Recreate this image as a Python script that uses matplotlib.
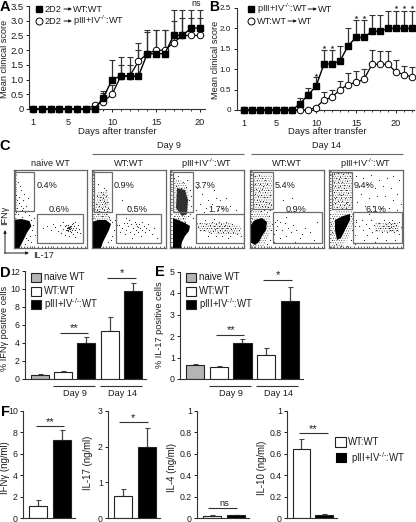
import matplotlib
matplotlib.use("Agg")
import matplotlib.pyplot as plt
from matplotlib.patches import Rectangle

plt.rcParams['font.family'] = ['Liberation Sans', 'DejaVu Sans']
plt.rcParams['mathtext.fontset'] = 'custom'
plt.rcParams['mathtext.rm'] = 'Liberation Sans'
plt.rcParams['mathtext.default'] = 'regular'
plt.rcParams['font.size'] = 6.6
plt.rcParams['hatch.linewidth'] = 0.35
INK = '#1c1c1c'
KO = r'pIII+IV$^{\text{-/-}}$:WT'

# ---------- panel A ----------
days_a = list(range(1, 21))
a_black = [0, 0, 0, 0, 0, 0, 0, 0, .38, 1.0, 1.12, 1.12, 1.12, 1.88, 1.88, 1.88, 2.5, 2.5, 2.75, 2.75]
a_black_top = [0, 0, 0, 0, 0, 0, 0, 0, .6, 1.68, 1.78, 1.78, 2.25, 2.7, 2.7, 2.7, 3.38, 3.38, 3.38, 3.38]
a_white = [0, 0, 0, 0, 0, 0, 0, .12, .25, .5, 1.12, 1.12, 1.62, 1.88, 2.0, 2.0, 2.25, 2.5, 2.5, 2.5]
a_white_top = [0, 0, 0, 0, 0, 0, 0, .2, .55, .8, 1.5, 1.5, 2.0, 2.62, 2.7, 2.7, 3.0, 3.1, 3.1, 3.1]
# ---------- panel B ----------
days_b = list(range(1, 23))
b_black = [0, 0, 0, 0, 0, 0, 0, .15, .37, .58, 1.13, 1.13, 1.2, 1.57, 1.78, 1.78, 1.93, 1.93, 2.0, 2.0, 2.0, 2.0]
b_black_top = [0, 0, 0, 0, 0, 0, 0, .3, .55, .8, 1.47, 1.47, 1.57, 2.0, 2.2, 2.2, 2.33, 2.33, 2.43, 2.43, 2.43, 2.43]
b_white = [0, 0, 0, 0, 0, 0, 0, 0, 0, .06, .25, .31, .5, .62, .68, .75, 1.12, 1.12, 1.12, .93, .87, .81]
b_white_top = [0, 0, 0, 0, 0, 0, 0, 0, 0, .1, .43, .48, .72, .9, .95, 1.0, 1.48, 1.45, 1.45, 1.22, 1.08, 1.05]
b_star_days = [10, 11, 12, 15, 16, 20, 21, 22]
b_star_vals = [.87, 1.55, 1.55, 2.27, 2.27, 2.52, 2.52, 2.52]
# ---------- panel D, E ----------
d_vals = [.45, .75, 4.05, 5.3, 9.8]
d_tops = [.55, .85, 4.65, 6.9, 10.7]
e_vals = [.65, .57, 1.68, 1.13, 3.62]
e_tops = [.7, .6, 1.85, 1.45, 4.3]
group_colors = ['#b4b4b4', 'white', 'black', 'white', 'black']
# ---------- panel F ----------
f_names = ['IFNγ (ng/ml)', 'IL-17 (ng/ml)', 'IL-4 (ng/ml)', 'IL-10 (ng/ml)']
f_vals = [[1.1, 7.3], [.63, 2.0], [.022, .025], [.645, .03]]
f_tops = [[1.65, 8.2], [.82, 2.53], [.028, .032], [.74, .04]]
f_ymax = [10, 3, 1, 1]
f_ticks = [[0, 2, 4, 6, 8, 10], [0, 1, 2, 3], [0, .2, .4, .6, .8, 1], [0, .2, .4, .6, .8, 1]]
f_ticklabels = [['0', '2', '4', '6', '8', '10'], ['0', '1', '2', '3'],
                ['0', '0.2', '0.4', '0.6', '0.8', '1'], ['0', '0.2', '0.4', '0.6', '0.8', '1']]
# ---------- panel C: flow plots, points read by eye ----------
flow_titles = ['naive WT', 'WT:WT', KO, 'WT:WT', KO]
flow_pct1 = ['0.4%', '0.9%', '3.7%', '5.4%', '9.4%']
flow_pct2 = ['0.6%', '0.5%', '1.7%', '0.9%', '6.1%']
flow1 = [(5,12),(8,20),(3,25),(10,30),(6,33),(13,36),(4,38),(9,40),(15,28),(7,16),(11,24),(4,30),(8,36),(12,42),(5,44),(3,42),(16,45),(9,47),(2,18),(6,27),(10,38),(14,41),(18,50),(20,55),(19,60),(21,48),(17,66),(15,70),(12,74),(18,72),(22,65),(13,68),
 (30,58),(34,56),(38,60),(42,57),(45,61),(40,54),(47,55),(48,63),(50,59),(52,56),(53,60),(54,58),(55,55),(55,61),(56,57),(57,59),(58,56),(58,62),(59,54),(59,60),(60,58),(60,64),(61,56),(62,60),(62,52),(63,58),(64,62),(65,55),(66,59),(50,52),(52,65),(56,66),(62,67),(67,63),(54,58),(55,58),(56,59),(57,57),(55,60),(57,61),(53,55),(60,53),(56,58),(57,56),(54,60),(58,58),(55,57)]
flow2 = [(6,14),(9,22),(12,18),(5,26),(8,30),(11,28),(14,26),(15,32),(7,36),(10,34),(13,36),(5,40),(9,42),(12,40),(16,38),(4,34),(11,24),(14,20),(6,44),(10,46),(14,44),(17,47),(8,27),(12,31),(10,38),(13,33),(7,41),(15,41),
 (18,50),(20,52),(23,50),(25,55),(22,60),(20,66),(24,64),(16,72),(19,70),(30,30),(36,36),(42,40),(34,48),
 (27,55),(30,58),(32,53),(34,60),(36,56),(38,62),(39,54),(41,58),(42,64),(43,52),(44,60),(45,56),(46,62),(47,54),(48,58),(49,66),(50,52),(50,60),(52,56),(53,62),(54,58),(56,54),(57,60),(60,64),(62,58),(65,68),(33,64),(40,68),(37,50),(28,62),(35,53),(46,57),(44,54)]
flow3 = [(4,8),(8,6),(13,12),(17,10),(6,16),(11,18),(16,17),(20,20),(21,26),(3,22),(19,30),(21,36),(4,46),(9,50),(13,48),(18,46),(5,52),(8,48),(15,52),(20,44),(23,48),
 (27,18),(32,24),(38,30),(44,20),(50,30),(56,28),(36,38),(42,34),(48,40),(30,34),(60,36),(66,40),(52,38),(34,42),(26,40),(46,28),
 (26,54),(28,57),(30,60),(30,53),(33,56),(34,60),(36,54),(37,58),(39,62),(40,55),(41,58),(42,52),(43,61),(44,56),(45,59),(46,54),(47,58),(48,62),(49,56),(50,60),(51,54),(52,58),(53,62),(54,56),(55,60),(56,52),(57,58),(58,62),(59,56),(60,66),(61,59),(62,54),(63,62),(65,58),(67,64),(69,60),(71,66),(38,66),(46,66),(35,50),(44,49),(52,66),(58,68),(41,63),(49,52),(55,55)]
flow4 = [(5,6),(9,5),(12,8),(7,10),(15,10),(5,14),(10,14),(13,16),(17,14),(6,19),(9,21),(12,19),(15,22),(18,20),(5,24),(8,26),(11,25),(14,27),(17,27),(20,25),(7,30),(10,31),(13,31),(16,32),(19,33),(6,34),(9,35),(12,36),(15,36),(18,37),(21,35),(8,39),(11,41),(14,40),(17,42),(20,40),
 (23,48),(25,52),(22,54),(26,60),(24,64),(20,70),(24,72),(17,74),(21,60),(27,50),(19,46),
 (33,30),(42,28),(36,47),(30,52),(27,56),(32,60),(35,53),(38,58),(41,62),(43,55),(36,66),(46,60),(52,64),(55,58),(60,62),(64,70),(45,72),(30,68),(67,52),(50,68)]
flow5 = [(5,4),(9,3),(14,4),(19,3),(7,8),(11,7),(16,8),(21,6),(5,12),(9,12),(13,12),(18,11),(6,16),(11,16),(15,15),(20,16),(8,20),(12,20),(17,20),(5,22),(10,24),(14,24),(19,23),(7,27),(12,28),(16,28),(21,27),(9,31),(13,31),(18,32),(6,33),(11,35),(15,35),(20,35),(8,37),(13,38),(17,38),(6,28),(10,9),(15,18),(9,17),(12,25),(17,33),
 (27,6),(34,8),(42,5),(50,10),(58,8),(64,6),(70,10),(30,16),(38,14),(46,18),(54,16),(62,18),(68,24),(32,24),(40,28),(48,26),(56,26),(64,30),(72,34),(28,32),(36,36),(44,36),(52,38),(60,38),(68,40),(30,42),(40,44),(48,42),
 (24,46),(27,50),(26,56),(23,60),(26,65),(22,70),(26,74),(18,76),(12,76),(7,74),(3,70),(3,62),(2,54),(24,54),(22,46),(4,48),
 (27,52),(30,56),(33,50),(34,60),(37,54),(38,65),(40,58),(42,50),(43,62),(45,55),(47,60),(48,68),(50,53),(51,58),(53,62),(54,56),(55,50),(56,58),(57,54),(58,62),(59,56),(60,52),(60,58),(61,60),(62,54),(62,57),(63,50),(63,60),(64,56),(65,62),(65,53),(66,58),(67,55),(68,60),(70,52),(70,64),(72,57),(35,70),(46,72),(57,70),(66,70)]
flow_dots = [flow1, flow2, flow3, flow4, flow5]
blob_outline = [
 [(0,50),(8,49),(16,51),(18,56),(14,62),(11,68),(8,74),(6,78),(0,78)],
 [(0,52),(6,50),(14,50),(19,54),(17,60),(14,66),(11,72),(9,78),(0,78)],
 [(3,48),(8,50),(15,53),(20,56),(19,61),(15,66),(12,72),(11,78),(3,78)],
 [(0,56),(5,50),(12,48),(17,52),(16,60),(12,66),(9,72),(5,75),(0,72)],
 [(6,50),(14,46),(21,44),(21,50),(16,60),(12,68),(8,70),(6,60)]]
# stippled regions of dense events, one list of outlines per plot
dense_regions = [
 [],
 [[(1,38),(9,40),(16,44),(20,50),(12,52),(1,52)], [(5,22),(16,22),(18,40),(4,40)]],
 [[(3,8),(10,10),(17,14),(19,28),(18,42),(15,52),(5,50),(3,30)], [(26,53),(40,52),(60,53),(72,57),(70,65),(50,64),(30,61)]],
 [[(0,38),(8,40),(18,44),(22,56),(18,68),(14,76),(1,76)], [(3,4),(22,4),(22,38),(3,38)]],
 [[(3,44),(10,40),(24,38),(25,52),(20,66),(14,76),(3,76),(2,60)], [(3,3),(23,3),(23,38),(3,38)], [(46,52),(70,52),(70,62),(46,62)]]]
dark_core = [None, None, [(7,18),(15,20),(18,30),(17,44),(12,46),(6,38)], None, None]
gate1_box = [(1.5, 2, 21, 41), (1.5, 2, 20, 42), (3, 2, 23, 42), (3, 2, 23, 39), (3, 2, 23, 39)]
gate2_box = [(24, 44, 70, 73), (24, 44, 69, 73), (26, 44, 74, 73), (23, 42, 72, 73), (24, 42, 73, 73)]
flow_rects = [(13.5, 87), (92, 166), (170, 244), (250, 324), (329, 403)]
flow_axis_ticks = [0.5, 2, 3.5, 5, 8, 11, 14, 17, 19, 21, 25, 29, 32, 35, 38, 40, 44, 48, 52, 56, 60, 64, 68, 72]

W, H = 416, 522
fig = plt.figure(figsize=(W / 100, H / 100), dpi=100, facecolor='white')


def axpx(l, t, r, b, **kw):
    return fig.add_axes([l / W, 1 - b / H, (r - l) / W, (b - t) / H], **kw)


ov = fig.add_axes([0, 0, 1, 1], zorder=10)
ov.set_xlim(0, W)
ov.set_ylim(H, 0)
ov.axis('off')
ov.patch.set_alpha(0)


def T(x, y, s, **kw):
    kw.setdefault('ha', 'center')
    kw.setdefault('va', 'center')
    kw.setdefault('color', INK)
    ov.text(x, y, s, **kw)


def L(x0, x1, y, lw=0.8, color='#333333'):
    ov.plot([x0, x1], [y, y], color=color, lw=lw, solid_capstyle='butt')


def arrow(x0, y0, x1, y1):
    ov.annotate('', xy=(x1, y1), xytext=(x0, y0),
                arrowprops=dict(arrowstyle='-|>,head_width=0.12,head_length=0.25', lw=0.7,
                                color=INK, shrinkA=0, shrinkB=0))


def style(ax, size=6.3):
    ax.patch.set_alpha(0)
    for s in ('top', 'right'):
        ax.spines[s].set_visible(False)
    for s in ('left', 'bottom'):
        ax.spines[s].set_linewidth(0.8)
        ax.spines[s].set_color('#333333')
    ax.tick_params(length=2.2, width=0.7, pad=1.5, labelsize=size, colors=INK)


def clinical(ax, days, wv, wt, bv, bt, ylim, yticks, ylabels, xmajor, xlim, size):
    ax.errorbar(days, wv, yerr=[[0] * len(wv), [t - v for t, v in zip(wt, wv)]], fmt='none',
                ecolor='#333333', elinewidth=0.9, capsize=2, capthick=0.8, clip_on=False, zorder=2)
    ax.errorbar(days, bv, yerr=[[0] * len(bv), [t - v for t, v in zip(bt, bv)]], fmt='none',
                ecolor='#333333', elinewidth=0.9, capsize=2, capthick=0.8, clip_on=False, zorder=2)
    ax.plot(days, wv, '-o', color='black', mfc='white', mec='black', ms=4.7, mew=0.7, lw=0.9,
            clip_on=False, zorder=3)
    ax.plot(days, bv, '-s', color='black', ms=4.5, lw=1.0, clip_on=False, zorder=4)
    ax.set_xlim(*xlim)
    ax.set_ylim(*ylim)
    ax.set_xticks(xmajor)
    ax.set_xticks(days, minor=True)
    ax.set_yticks(yticks)
    ax.set_yticklabels(ylabels)
    style(ax, size)
    ax.tick_params(axis='x', which='minor', length=1.5, width=0.6, colors=INK)


# A
axA = axpx(29, 6, 205, 109)
clinical(axA, days_a, a_white, a_white_top, a_black, a_black_top, (0, 3.5),
         [0, .5, 1, 1.5, 2, 2.5, 3, 3.5], ['0', '0.5', '1.0', '1.5', '2.0', '2.5', '3.0', '3.5'],
         [1, 5, 10, 15, 20], (0.545, 20.57), 6.8)
axA.tick_params(axis='x', pad=4, labelsize=6.6)
T(5, 59, 'Mean clinical score', rotation=90, fontsize=6.6)
T(117, 131, 'Days after transfer', fontsize=6.8)
T(5, 7, 'A', fontweight='bold', fontsize=10.5, color='black')
T(196, 3.5, 'ns', fontsize=6.5)
ov.plot([39], [9], 's', color='black', ms=5)
ov.plot([39], [21], 'o', mfc='white', mec='black', ms=5, mew=0.7)
T(44, 9, '2D2', ha='left')
arrow(64, 9, 72, 9)
T(73, 9, 'WT:WT', ha='left')
T(44, 21, '2D2', ha='left')
arrow(64, 21, 72, 21)
T(73, 21, KO, ha='left')

# B
axB = axpx(237, 8, 414, 110)
clinical(axB, days_b, b_white, b_white_top, b_black, b_black_top, (0, 2.5),
         [0, .5, 1, 1.5, 2, 2.5], ['0', '0.5', '1.0', '1.5', '2.0', '2.5'],
         [1, 5, 10, 15, 20], (0.125, 22.25), 5.9)
axB.tick_params(axis='x', pad=4, labelsize=6.6)
axB.tick_params(axis='y', pad=2)
axB.scatter(b_star_days, b_star_vals, marker='*', s=9, color='#222222', lw=0, clip_on=False, zorder=5)
T(216, 60, 'Mean clinical score', rotation=90, fontsize=6.6)
T(327, 131, 'Days after transfer', fontsize=6.8)
T(214, 7, 'B', fontweight='bold', fontsize=10, color='black')
ov.plot([251], [9], 's', color='black', ms=5)
ov.plot([251], [21], 'o', mfc='white', mec='black', ms=5, mew=0.7)
T(257, 9, KO, ha='left')
arrow(308, 9, 317, 9)
T(318, 9, 'WT', ha='left')
T(257, 21, 'WT:WT', ha='left')
arrow(288, 21, 297, 21)
T(298, 21, 'WT', ha='left')

# C
for i, (x0, x1) in enumerate(flow_rects):
    ax = axpx(x0, 170, x1, 248)
    ax.set_xlim(0, 74)
    ax.set_ylim(78, 0)
    for region in dense_regions[i]:
        hx, hy = zip(*region)
        ax.fill(hx, hy, facecolor='none', edgecolor='#4a4a4a', hatch='.......', lw=0, zorder=1)
    if dark_core[i]:
        cx, cy = zip(*dark_core[i])
        ax.fill(cx, cy, color='#303030', lw=0, zorder=2)
    bx, by = zip(*blob_outline[i])
    ax.fill(bx, by, color='black', lw=0, zorder=2)
    dx, dy = zip(*flow_dots[i])
    ax.scatter(dx, dy, s=0.7, color='#222222', lw=0, zorder=3)
    for box in (gate1_box[i], gate2_box[i]):
        ax.add_patch(Rectangle((box[0], box[1]), box[2] - box[0], box[3] - box[1], fill=False,
                               ec='#6e6e6e', lw=0.9, zorder=4))
    for s in ax.spines.values():
        s.set_linewidth(0.9)
        s.set_color('#666666')
    ax.set_xticks(flow_axis_ticks)
    ax.set_yticks(flow_axis_ticks)
    ax.set_xticklabels([])
    ax.set_yticklabels([])
    ax.tick_params(length=1.2, width=0.5, direction='in', colors='#222222', top=False, right=False)
    T((x0 + x1) / 2, 164, flow_titles[i])
    T(x0 + gate1_box[i][2] + 2, 185, flow_pct1[i], ha='left')
    T((x0 + (gate2_box[i][0] + gate2_box[i][2]) / 2) - 1, 209, flow_pct2[i])
T(5, 146, 'C', fontweight='bold', fontsize=10.5, color='black')
T(169, 146, 'Day 9')
T(327, 146, 'Day 14')
L(92, 244, 154, color='#666666')
L(251, 403, 154, color='#666666')
T(5, 215, 'IFNγ', rotation=90)
arrow(5, 253.4, 5, 230)
arrow(4.6, 253, 29, 253)
T(33, 255, 'IL-17', ha='left')


def bars(ax, vals, tops, colors, xlim, ylim):
    xs = list(range(len(vals)))
    ax.bar(xs, vals, width=0.77, color=colors, edgecolor='#222222', linewidth=0.8, zorder=2)
    ax.errorbar(xs, vals, yerr=[[0] * len(vals), [t - v for t, v in zip(tops, vals)]], fmt='none',
                ecolor='#444444', elinewidth=0.9, capsize=1.8, capthick=0.8, zorder=1)
    ax.set_xlim(*xlim)
    ax.set_ylim(*ylim)
    ax.set_xticks([])
    style(ax)


# D
axD = axpx(25, 271, 146, 379)
bars(axD, d_vals, d_tops, group_colors, (-0.62, 4.55), (0, 12))
axD.set_yticks([0, 2, 4, 6, 8, 10, 12])
T(5, 328, '% IFNγ positive cells', rotation=90)
T(5, 273, 'D', fontweight='bold', fontsize=10.5, color='black')
L(60, 88, 333); T(74, 328, '**', fontsize=8)
L(107, 136, 278); T(122, 273, '*', fontsize=8)
L(53, 95, 386); T(75, 394, 'Day 9')
L(100, 142, 386); T(122, 394, 'Day 14')

# E
axE = axpx(180, 271.5, 303, 379)
bars(axE, e_vals, e_tops, group_colors, (-0.63, 4.55), (0, 5))
axE.set_yticks([0, 1, 2, 3, 4, 5])
T(160, 325, '% IL-17 positive cells', rotation=90)
T(160, 272, 'E', fontweight='bold', fontsize=10.5, color='black')
L(216, 244, 335); T(231, 330, '**', fontsize=8)
L(263, 292, 280); T(278, 275, '*', fontsize=8)
L(209, 251, 386); T(231, 394, 'Day 9')
L(256, 298, 386); T(279, 394, 'Day 14')

for x0 in (31, 186):
    for (y0, c, lab) in ((273, '#b4b4b4', 'naive WT'), (287, 'white', 'WT:WT'), (300, 'black', KO)):
        ov.add_patch(Rectangle((x0, y0), 10, 9, fc=c, ec='#222222', lw=0.8))
        T(x0 + 13, y0 + 4.5, lab, ha='left', fontsize=6.9)

# F
f_rects = [(23, 75), (108, 160), (197, 249), (287, 337)]
f_label_x = [5, 88, 172, 262]
f_label_y = [468, 463, 468, 468]
for i, (l, r) in enumerate(f_rects):
    ax = axpx(l, 411, r, 518)
    bars(ax, f_vals[i], f_tops[i], ['white', 'black'], (-0.64, 1.57), (0, f_ymax[i]))
    ax.set_yticks(f_ticks[i])
    ax.set_yticklabels(f_ticklabels[i])
    T(f_label_x[i], f_label_y[i], f_names[i], rotation=90, fontsize=6.9)
T(5, 412, 'F', fontweight='bold', fontsize=10.5, color='black')
L(36, 64, 426); T(50, 422, '**', fontsize=8)
L(119, 148, 422); T(133, 418, '*', fontsize=8)
L(208, 237, 508); T(224, 503, 'ns', fontsize=6.6)
L(299, 328, 433); T(313, 429, '**', fontsize=8)
ov.add_patch(Rectangle((335, 437), 11, 10, fc='white', ec='#222222', lw=0.8))
ov.add_patch(Rectangle((336, 453), 10, 9, fc='black', ec='black', lw=0.8))
T(348, 442, 'WT:WT', ha='left', fontsize=6.9)
T(351, 458, KO, ha='left', fontsize=6.9)

fig.savefig('out.png', dpi=100)
